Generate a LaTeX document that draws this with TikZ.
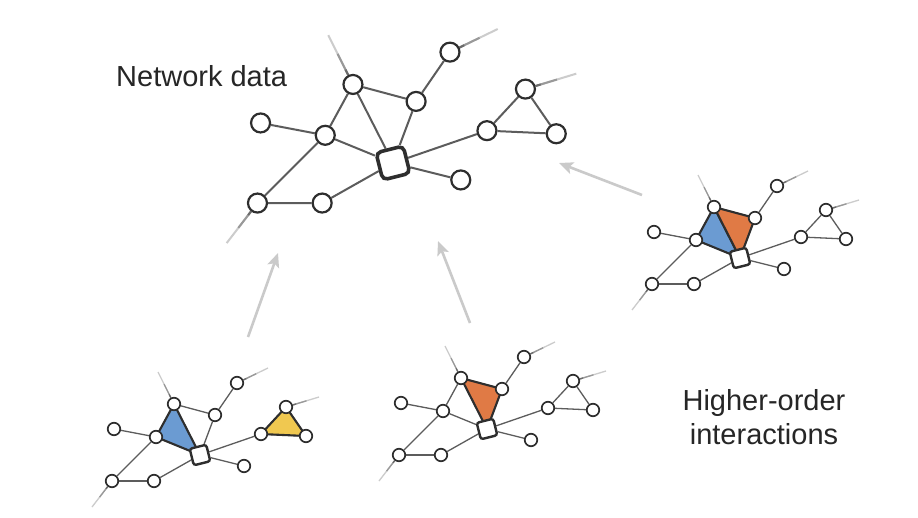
\documentclass[tikz,border=0pt]{standalone}
\usepackage{fontspec}
\setmainfont{Liberation Sans}
\usetikzlibrary{arrows.meta,calc}
\pgfdeclarelayer{back}
\pgfdeclarelayer{bg}
\pgfsetlayers{back,bg,main}
\definecolor{edgec}{HTML}{5C5C5C}
\definecolor{nodeln}{HTML}{2E2E2E}
\definecolor{arrc}{HTML}{CACACA}
\definecolor{hblue}{HTML}{6B9BD2}
\definecolor{horange}{HTML}{E07A45}
\definecolor{hyellow}{HTML}{F0C850}
\definecolor{txtc}{HTML}{262626}
\tikzset{
  small net/.style={
    vtx/.style={circle,draw=nodeln,fill=white,line width=1.7pt,minimum size=12.5pt,inner sep=0pt},
    hub/.style={rectangle,rounded corners=2.5pt,draw=nodeln,fill=white,line width=2.4pt,minimum size=17pt,rotate=14,inner sep=0pt},
    edgeln/.style={draw=edgec,line width=1.3pt},
    extw/.style={line width=1.3pt},
    outl/.style={draw=nodeln,line width=2.1pt,line join=round}},
  main net/.style={
    vtx/.style={circle,draw=nodeln,fill=white,line width=2.2pt,minimum size=19pt,inner sep=0pt},
    hub/.style={rectangle,rounded corners=5pt,draw=nodeln,fill=white,line width=3.6pt,minimum size=28pt,rotate=14,inner sep=0pt},
    edgeln/.style={draw=edgec,line width=2pt},
    extw/.style={line width=2pt},
    outl/.style={draw=nodeln,line width=2.5pt,line join=round}},
  arr/.style={draw=arrc,line width=2.6pt,-{Stealth[length=14pt,width=12pt,inset=3pt]}},
  lbl/.style={font=\fontsize{29}{34}\selectfont,text=txtc,inner sep=0pt},
}
\newcommand\extline[2]{%
  \draw[extw,draw=black!20] (#1) -- (#2);
  \draw[extw,draw=black!40] (#1) -- ($(#1)!0.62!(#2)$);
  \draw[extw,draw=black!58] (#1) -- ($(#1)!0.3!(#2)$);
}
\newcommand\hypnet[5]{%
\begin{scope}[shift={#2},scale=#3,name prefix=#1-,#4]
  \node[hub] (S) at (0,0) {};
  \node[vtx] (A) at (-26,-51) {};
  \node[vtx] (B) at (15,-40) {};
  \node[vtx] (C) at (37,-72) {};
  \node[vtx] (D) at (-44,-18) {};
  \node[vtx] (E) at (-86,-26) {};
  \node[vtx] (F) at (-88,26) {};
  \node[vtx] (G) at (-46,26) {};
  \node[vtx] (H) at (44,11) {};
  \node[vtx] (I) at (61,-21) {};
  \node[vtx] (J) at (86,-48) {};
  \node[vtx] (K) at (106,-19) {};
  \coordinate (Ae) at (-42,-83);
  \coordinate (Ce) at (68,-87);
  \coordinate (Fe) at (-108,52);
  \coordinate (Je) at (119,-58);
  \begin{pgfonlayer}{bg}
    \extline{A}{Ae}
    \extline{C}{Ce}
    \extline{F}{Fe}
    \extline{J}{Je}
    \draw[edgeln] (A) -- (B);
    \draw[edgeln] (A) -- (D);
    \draw[edgeln] (A) -- (S);
    \draw[edgeln] (B) -- (S);
    \draw[edgeln] (B) -- (C);
    \draw[edgeln] (D) -- (E);
    \draw[edgeln] (D) -- (S);
    \draw[edgeln] (D) -- (F);
    \draw[edgeln] (F) -- (G);
    \draw[edgeln] (G) -- (S);
    \draw[edgeln] (S) -- (H);
    \draw[edgeln] (S) -- (I);
    \draw[edgeln] (I) -- (J);
    \draw[edgeln] (I) -- (K);
    \draw[edgeln] (J) -- (K);
    #5
  \end{pgfonlayer}
\end{scope}}
\begin{document}
\begin{tikzpicture}[x=1pt,y=-1pt]
  \begin{pgfonlayer}{back}
    \fill[white] (0,0) rectangle (918,517);
  \end{pgfonlayer}
  \useasboundingbox (0,0) rectangle (918,517);
  % main network
  \hypnet{n}{(393,163)}{1.54}{main net}{}
  % right network
  \hypnet{r}{(740,258)}{1}{small net}{%
    \filldraw[fill=hblue,outl] (D.center) -- (A.center) -- (S.center) -- cycle;
    \filldraw[fill=horange,outl] (A.center) -- (B.center) -- (S.center) -- cycle;}
  % bottom-left network
  \hypnet{l}{(200,455)}{1}{small net}{%
    \filldraw[fill=hblue,outl] (D.center) -- (A.center) -- (S.center) -- cycle;
    \filldraw[fill=hyellow,outl] (I.center) -- (J.center) -- (K.center) -- cycle;}
  % bottom-middle network
  \hypnet{m}{(487,429)}{1}{small net}{%
    \filldraw[fill=horange,outl] (A.center) -- (B.center) -- (S.center) -- cycle;}
  % arrows
  \coordinate (a1s) at (248,337);
  \coordinate (a1e) at (278,253);
  \coordinate (a2s) at (470,323);
  \coordinate (a2e) at (438,241);
  \coordinate (a3s) at (642,195);
  \coordinate (a3e) at (559,163);
  \draw[arr] (a1s) -- (a1e);
  \draw[arr] (a2s) -- (a2e);
  \draw[arr] (a3s) -- (a3e);
  % labels
  \node[lbl,anchor=base west] (t1) at (116,86) {Network data};
  \node[lbl,anchor=base] (t2) at (764,410) {Higher-order};
  \node[lbl,anchor=base] (t3) at (764,444) {interactions};
\end{tikzpicture}
\end{document}
